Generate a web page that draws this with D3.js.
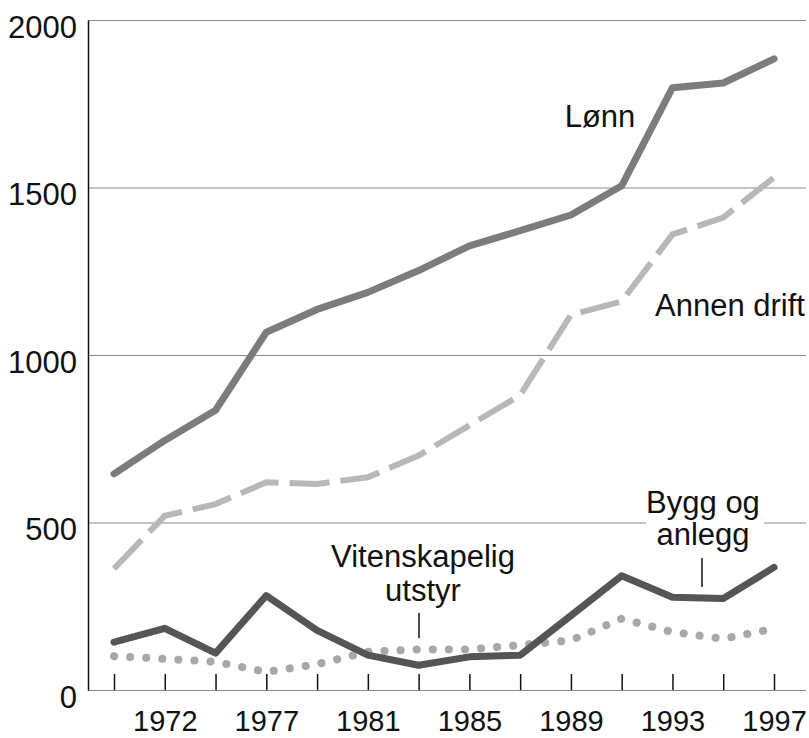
<!DOCTYPE html>
<html>
<head>
<meta charset="utf-8">
<script src="https://cdn.jsdelivr.net/npm/d3@7"></script>
<style>
  body { margin: 0; background: #fff; }
  text { font-family: "Liberation Sans", Arial, sans-serif; fill: #111; }
</style>
</head>
<body>
<svg></svg>
<script>
// years on the x axis (evenly spaced, not by calendar)
var years = [1970, 1972, 1974, 1977, 1979, 1981, 1983, 1985, 1987, 1989, 1991, 1993, 1995, 1997];
var labelYears = [1972, 1977, 1981, 1985, 1989, 1993, 1997];
var yTicks = [0, 500, 1000, 1500, 2000];

var lonn   = [645, 745, 835, 1068, 1136, 1187, 1252, 1326, 1371, 1418, 1505, 1798, 1812, 1884];
var annen  = [362, 520, 555, 620, 615, 635, 700, 790, 880, 1120, 1160, 1360, 1410, 1530];
var bygg   = [143, 184, 110, 282, 178, 104, 74, 99, 104, 222, 341, 277, 273, 366];
var viten  = [101, 93, 84, 54, 77, 114, 121, 121, 134, 148, 213, 173, 153, 183];

(function go() {
  var width = 809, height = 738;
  var svg = d3.select('svg').attr('width', width).attr('height', height);

  var x = d3.scalePoint().domain(years).range([114, 774]);
  var y = d3.scaleLinear().domain([0, 2000]).range([690, 20]);

  // gridlines
  svg.append('g')
    .attr('transform', 'translate(88,0)')
    .call(d3.axisLeft(y).tickValues(yTicks).tickSize(-(806 - 88)).tickFormat(''))
    .call(function(g){ g.select('.domain').remove(); })
    .selectAll('line').attr('stroke', '#8a8a8a').attr('stroke-width', 1.2);

  // y labels
  svg.append('g')
    .attr('transform', 'translate(88,0)')
    .call(d3.axisLeft(y).tickValues(yTicks).tickSize(0).tickPadding(11).tickFormat(d3.format('d')))
    .call(function(g){
      g.select('.domain').attr('stroke', '#111').attr('stroke-width', 1.5);
      g.selectAll('text').style('font-size', '31px').attr('dy', '0.55em')
        .style('font-family', '"Liberation Sans", Arial, sans-serif');
    });

  // x axis ticks (pointing up) and labels
  svg.append('g')
    .attr('transform', 'translate(0,690)')
    .call(d3.axisBottom(x).tickSizeInner(-16).tickSizeOuter(0).tickPadding(20)
      .tickFormat(function(d){ return labelYears.indexOf(d) >= 0 ? d : ''; }))
    .call(function(g){
      g.select('.domain').remove();
      g.selectAll('line').attr('stroke', '#111').attr('stroke-width', 1.5);
      g.selectAll('text').style('font-size', '29px')
        .style('font-family', '"Liberation Sans", Arial, sans-serif');
    });

  var line = d3.line().x(function(d, i){ return x(years[i]); }).y(function(d){ return y(d); });

  svg.append('path').datum(viten).attr('d', line)
    .attr('fill', 'none').attr('stroke', '#a8a8a8').attr('stroke-width', 8)
    .attr('stroke-linecap', 'round').attr('stroke-dasharray', '0.1,16');

  svg.append('path').datum(annen).attr('d', line)
    .attr('fill', 'none').attr('stroke', '#b8b8b8').attr('stroke-width', 6)
    .attr('stroke-dasharray', '40,11');

  svg.append('path').datum(lonn).attr('d', line)
    .attr('fill', 'none').attr('stroke', '#7c7c7c').attr('stroke-width', 7)
    .attr('stroke-linejoin', 'round').attr('stroke-linecap', 'round');

  svg.append('path').datum(bygg).attr('d', line)
    .attr('fill', 'none').attr('stroke', '#555').attr('stroke-width', 7)
    .attr('stroke-linejoin', 'round').attr('stroke-linecap', 'round');

  // labels
  var lab = svg.append('g').style('font-size', '31px').attr('text-anchor', 'middle');
  lab.append('text').attr('x', 600).attr('y', 127).text('Lønn');
  lab.append('text').attr('x', 730).attr('y', 316).text('Annen drift');

  lab.append('rect').attr('x', 646).attr('y', 488).attr('width', 118).attr('height', 60).attr('fill', '#fff');
  lab.append('text').attr('x', 703).attr('y', 513).text('Bygg og');
  lab.append('text').attr('x', 703).attr('y', 545).text('anlegg');
  lab.append('line').attr('x1', 702).attr('x2', 702).attr('y1', 558).attr('y2', 587)
    .attr('stroke', '#111').attr('stroke-width', 1.5);

  lab.append('text').attr('x', 423).attr('y', 567).text('Vitenskapelig');
  lab.append('text').attr('x', 423).attr('y', 601).text('utstyr');
  lab.append('line').attr('x1', 419).attr('x2', 419).attr('y1', 613).attr('y2', 638)
    .attr('stroke', '#111').attr('stroke-width', 1.5);
})();
</script>
</body>
</html>
